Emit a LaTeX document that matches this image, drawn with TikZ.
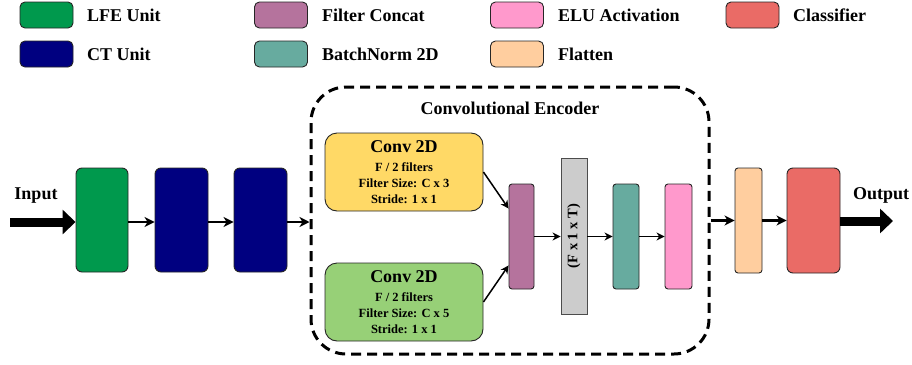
\documentclass[tikz,border=0pt]{standalone}
\usepackage{fontspec}
\setmainfont{Liberation Serif}
\usetikzlibrary{arrows.meta}
\definecolor{lfe}{HTML}{00994D}
\definecolor{ct}{HTML}{000080}
\definecolor{concat}{HTML}{B5739D}
\definecolor{bn}{HTML}{67AB9F}
\definecolor{elu}{HTML}{FF99CC}
\definecolor{flat}{HTML}{FFCE9F}
\definecolor{cls}{HTML}{EA6B66}
\definecolor{yel}{HTML}{FFD966}
\definecolor{grn}{HTML}{97D077}
\definecolor{bar}{HTML}{CCCCCC}
\newcommand{\bigsz}{\fontsize{18}{19}\selectfont}
\tikzset{
  blk/.style={draw=black!85, line width=0.9pt, rounded corners=6pt, inner sep=0pt},
  swatch/.style={blk, rounded corners=5pt, minimum width=53pt, minimum height=26pt},
  leglabel/.style={anchor=west, font=\fontsize{18}{20}\selectfont\bfseries, inner sep=0pt},
  bigtext/.style={font=\fontsize{18}{20}\selectfont\bfseries, inner sep=0pt},
  convbox/.style={blk, rounded corners=12pt, minimum width=158pt, minimum height=78pt, align=center, font=\fontsize{12.5}{16}\selectfont\bfseries},
  thickarr/.style={line width=2.2pt, -{Stealth[length=10pt,width=10pt,inset=3pt]}},
  thinarr/.style={line width=1.5pt, -{Stealth[length=8pt,width=8pt,inset=2.5pt]}},
  fatarr/.style={line width=9pt, -{Triangle[length=13pt,width=24pt]}},
}
\begin{document}
\begin{tikzpicture}[x=1pt,y=-1pt]
\useasboundingbox (0,0) rectangle (912,364);
% legend
\node[swatch, fill=lfe] (s1) at (46.5,15) {};
\node[leglabel] (l1) at (87,15) {LFE Unit};
\node[swatch, fill=ct] (s2) at (46.5,54) {};
\node[leglabel] (l2) at (87,54) {CT Unit};
\node[swatch, fill=concat] (s3) at (281,15) {};
\node[leglabel] (l3) at (322,15) {Filter Concat};
\node[swatch, fill=bn] (s4) at (281,54) {};
\node[leglabel] (l4) at (322,54) {BatchNorm 2D};
\node[swatch, fill=elu] (s5) at (517,15) {};
\node[leglabel] (l5) at (558,15) {ELU Activation};
\node[swatch, fill=flat] (s6) at (517,54) {};
\node[leglabel] (l6) at (558,54) {Flatten};
\node[swatch, fill=cls] (s7) at (752.5,15) {};
\node[leglabel] (l7) at (793,15) {Classifier};

% encoder frame
\node[draw, line width=3pt, dash pattern=on 10pt off 6pt, rounded corners=35pt,
      minimum width=398pt, minimum height=267pt, inner sep=0pt] (enc) at (510,220.5) {};
\node[bigtext] (enctitle) at (510,108) {Convolutional Encoder};

% main blocks
\node[blk, fill=lfe, minimum width=52pt, minimum height=104pt] (lfe) at (102,220) {};
\node[blk, fill=ct, minimum width=53pt, minimum height=104pt] (ct1) at (181.5,220) {};
\node[blk, fill=ct, minimum width=53pt, minimum height=104pt] (ct2) at (260.5,220) {};

\node[convbox, fill=yel] (c3) at (404,172)
  {{\bigsz Conv 2D}\\[3pt] F / 2 filters\\ Filter Size: C x 3\\ Stride: 1 x 1};
\node[convbox, fill=grn] (c5) at (404,302)
  {{\bigsz Conv 2D}\\[3pt] F / 2 filters\\ Filter Size: C x 5\\ Stride: 1 x 1};

\node[blk, rounded corners=3pt, fill=concat, minimum width=25pt, minimum height=105pt] (cat) at (521.5,236.5) {};
\node[draw=black!70, line width=0.9pt, fill=bar, minimum width=26pt, minimum height=156pt, inner sep=0pt] (fx) at (574,236) {};
\node[rotate=90, font=\fontsize{14.5}{16}\selectfont\bfseries, inner sep=0pt] (fxlab) at (574,236) {(F x 1 x T)};
\node[blk, rounded corners=3pt, fill=bn, minimum width=26pt, minimum height=105pt] (bn) at (626,236.5) {};
\node[blk, rounded corners=3pt, fill=elu, minimum width=27pt, minimum height=105pt] (elu) at (678.5,236.5) {};

\node[blk, rounded corners=3pt, fill=flat, minimum width=27pt, minimum height=105pt] (fl) at (748.5,220.5) {};
\node[blk, fill=cls, minimum width=53pt, minimum height=105pt] (cl) at (813.5,220.5) {};

% input/output
\coordinate (inp) at (10,222);
\coordinate (outp) at (893,221);
\node[bigtext] (inlab) at (36,196) {Input};
\node[bigtext] (outlab) at (881,195) {Output};
\draw[fatarr] (inp) -- (inp -| lfe.west);
\draw[fatarr] (cl.east |- outp) -- (outp);

% connectors
\draw[thickarr] (lfe.east |- inp) -- (ct1.west |- inp);
\draw[thickarr] (ct1.east |- inp) -- (ct2.west |- inp);
\draw[thickarr] (ct2.east |- inp) -- (enc.west |- inp);
\draw[thickarr] (enc.east |- fl) -- (fl.west);
\draw[thickarr] (fl.east) -- (cl.west);

\draw[thinarr] (c3.east) -- ([yshift=-25pt]cat.north west);
\draw[thinarr] (c5.east) -- ([yshift=24pt]cat.south west);
\draw[thinarr] (cat.east) -- (fx.west |- cat.east);
\draw[thinarr] (fx.east |- cat.east) -- (bn.west);
\draw[thinarr] (bn.east) -- (elu.west);
\end{tikzpicture}
\end{document}
